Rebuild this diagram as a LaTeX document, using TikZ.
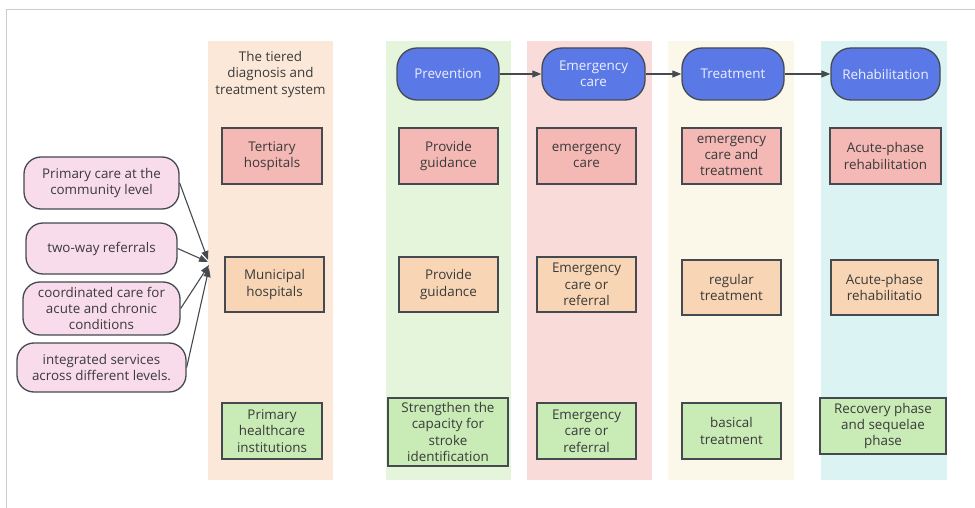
\documentclass[tikz,border=0pt]{standalone}
\usepackage{fontspec}
\setmainfont{Open Sans}
\usetikzlibrary{arrows.meta}
\definecolor{txt}{HTML}{3A3A3A}
\definecolor{edge}{HTML}{454A50}
\definecolor{laneA}{HTML}{FBE8D8}
\definecolor{laneB}{HTML}{E5F5DC}
\definecolor{laneC}{HTML}{F9DCDA}
\definecolor{laneD}{HTML}{FBF8EA}
\definecolor{laneE}{HTML}{DBF3F3}
\definecolor{redbox}{HTML}{F4B8B5}
\definecolor{orgbox}{HTML}{F8D5B4}
\definecolor{grnbox}{HTML}{C9EBB6}
\definecolor{pinkpill}{HTML}{F9DCEB}
\definecolor{bluepill}{HTML}{5A78E6}
\definecolor{bluetxt}{HTML}{EEF1FF}
\begin{document}
\begin{tikzpicture}[x=1pt,y=-1pt,
  every node/.style={font=\fontsize{13.4}{16.4}\selectfont, text=txt, align=center, inner sep=0pt},
  cellbox/.style={draw=edge, line width=1.3pt, rectangle},
  pillL/.style={draw=edge, line width=1.3pt, fill=pinkpill, rounded corners=17pt},
  head/.style={draw=edge, line width=1.3pt, fill=bluepill, rounded corners=20pt, text=bluetxt},
  arr/.style={draw=edge, line width=1.1pt, -{Triangle[length=9pt,width=7pt]}}
]
\useasboundingbox (0,0) rectangle (975,508);
\fill[white] (0,0) rectangle (975,508);
% frame lines
\draw[black!20, line width=1pt] (975,9.5) -- (6.5,9.5) -- (6.5,508);
% lanes
\fill[laneA] (208,41) rectangle (333,480);
\fill[laneB] (386,41) rectangle (511,480);
\fill[laneC] (527,41) rectangle (652,480);
\fill[laneD] (668,41) rectangle (794,480);
\fill[laneE] (821,41) rectangle (947,480);
\node (title) at (270.5,74.5) {The tiered\\diagnosis and\\treatment system};
% header pills
\node[head, minimum width=102pt, minimum height=52pt] (prev) at (448,74) {Prevention};
\node[head, minimum width=103pt, minimum height=52pt] (emer) at (593.5,74) {Emergency\\care};
\node[head, minimum width=102pt, minimum height=52pt] (treat) at (733,74) {Treatment};
\node[head, minimum width=109pt, minimum height=52pt] (rehab) at (885.5,74) {Rehabilitation};
\draw[arr] (prev) -- (emer);
\draw[arr] (emer) -- (treat);
\draw[arr] (treat) -- (rehab);
% tier boxes
\node[cellbox, fill=redbox, minimum width=100pt, minimum height=56pt] (tert) at (272,156) {Tertiary\\hospitals};
\node[cellbox, fill=orgbox, minimum width=99pt, minimum height=55pt] (muni) at (274.5,284.5) {Municipal\\hospitals};
\node[cellbox, fill=grnbox, minimum width=100pt, minimum height=56pt] (prim) at (272,431) {Primary\\healthcare\\institutions};
% prevention column
\node[cellbox, fill=redbox, minimum width=99pt, minimum height=56pt] (p1) at (448.5,156) {Provide\\guidance};
\node[cellbox, fill=orgbox, minimum width=99pt, minimum height=55pt] (p2) at (448.5,284.5) {Provide\\guidance};
\node[cellbox, fill=grnbox, minimum width=120pt, minimum height=68pt] (p3) at (448,432) {Strengthen the\\capacity for\\stroke\\identification};
% emergency column
\node[cellbox, fill=redbox, minimum width=99pt, minimum height=56pt] (e1) at (586.5,156) {emergency\\care};
\node[cellbox, fill=orgbox, minimum width=99pt, minimum height=55pt] (e2) at (586.5,284.5) {Emergency\\care or\\referral};
\node[cellbox, fill=grnbox, minimum width=99pt, minimum height=56pt] (e3) at (586.5,431) {Emergency\\care or\\referral};
% treatment column
\node[cellbox, fill=redbox, minimum width=99pt, minimum height=56pt] (t1) at (731.5,156) {emergency\\care and\\treatment};
\node[cellbox, fill=orgbox, minimum width=99pt, minimum height=55pt] (t2) at (731.5,287.5) {regular\\treatment};
\node[cellbox, fill=grnbox, minimum width=99pt, minimum height=56pt] (t3) at (731.5,431) {basical\\treatment};
% rehab column
\node[cellbox, fill=redbox, minimum width=111pt, minimum height=56pt] (r1) at (885.5,156) {Acute-phase\\rehabilitation};
\node[cellbox, fill=orgbox, minimum width=107pt, minimum height=55pt] (r2) at (884.5,287.5) {Acute-phase\\rehabilitatio};
\node[cellbox, fill=grnbox, minimum width=126pt, minimum height=56pt] (r3) at (883,426) {Recovery phase\\and sequelae\\phase};
% left pills
\node[pillL, minimum width=155pt, minimum height=52pt] (l1) at (101.5,183) {Primary care at the\\community level};
\node[pillL, minimum width=151pt, minimum height=51pt] (l2) at (101.5,248.5) {two-way referrals};
\node[pillL, minimum width=157pt, minimum height=53pt] (l3) at (101.5,308.5) {coordinated care for\\acute and chronic\\conditions};
\node[pillL, minimum width=169pt, minimum height=49pt] (l4) at (101.5,367.5) {integrated services\\across different levels.};
\coordinate (c1) at (208,260);
\coordinate (c2) at (208,262);
\coordinate (c3) at (209,265);
\coordinate (c4) at (209,268);
\draw[arr] (l1.east) -- (c1);
\draw[arr] (l2.east) -- (c2);
\draw[arr] (l3.east) -- (c3);
\draw[arr] (l4.east) -- (c4);
\end{tikzpicture}
\end{document}
